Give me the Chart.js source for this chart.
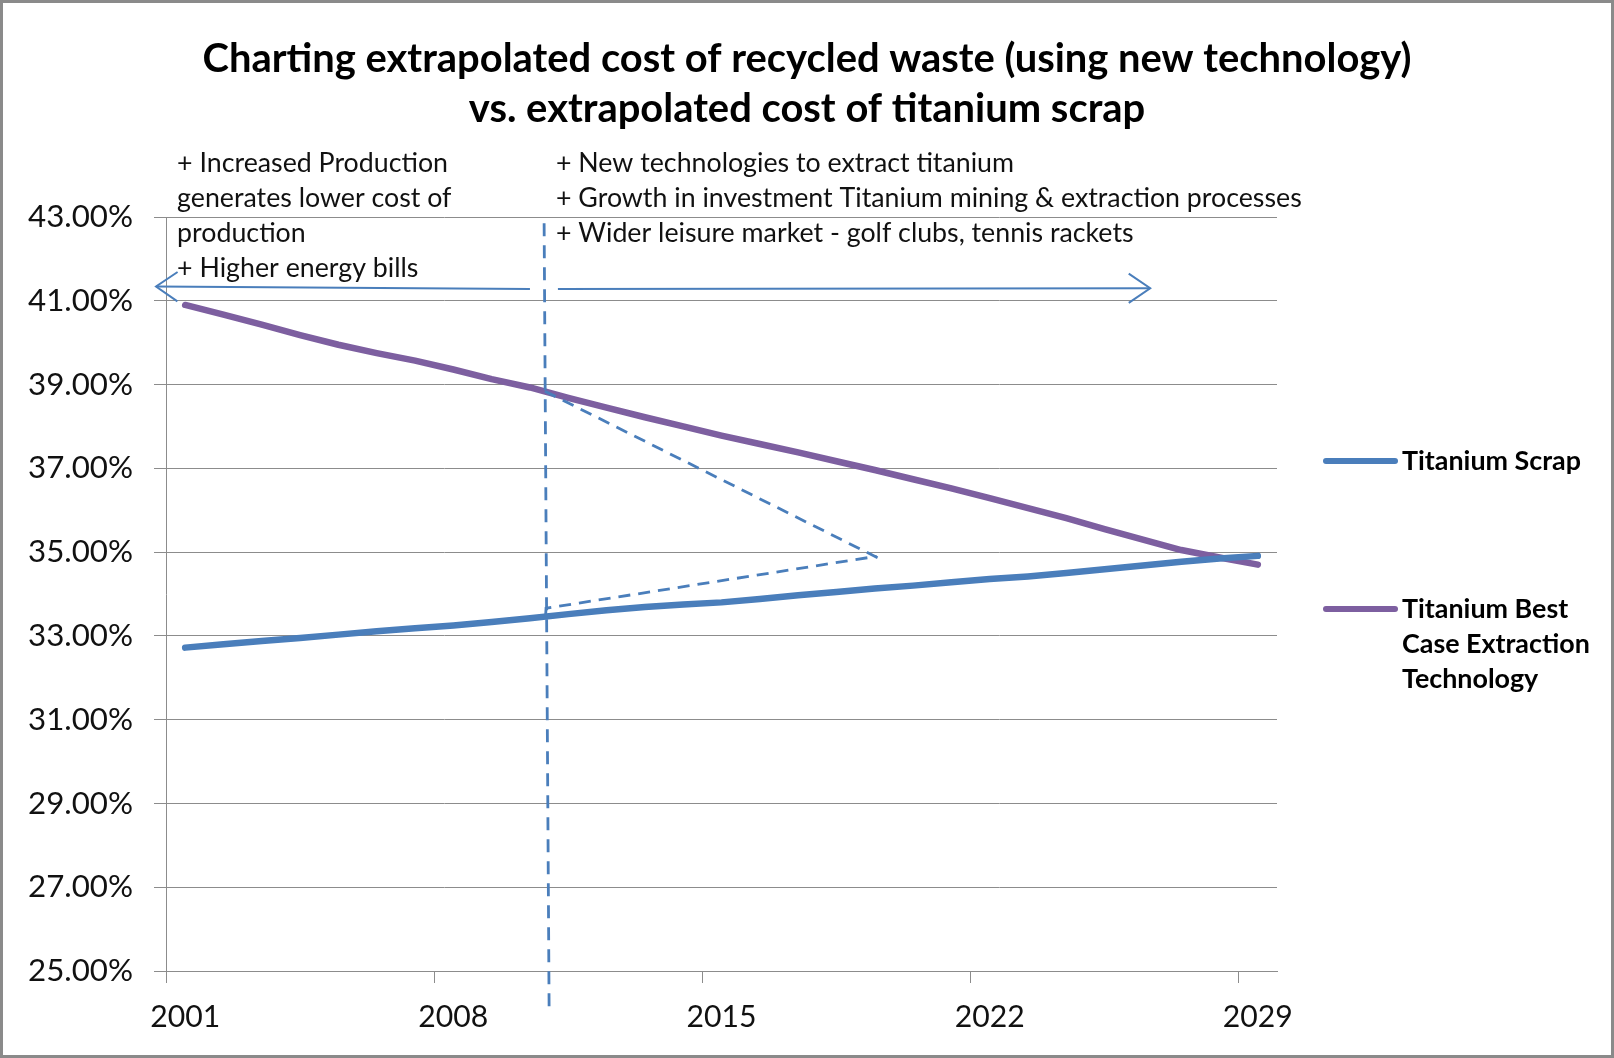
<!DOCTYPE html>
<html>
<head>
<meta charset="utf-8">
<script src="https://cdn.jsdelivr.net/npm/chart.js@4.4.1/dist/chart.umd.min.js"></script>
<style>
html,body{margin:0;padding:0;background:#fff;overflow:hidden}
#wrap{width:1614px;height:1058px;position:relative}
canvas{display:block}
</style>
</head>
<body>
<div id="wrap"><canvas id="c" width="1614" height="1058"></canvas></div>
<script>
// ---------- DATA ----------
const years = ['2001','2002','2003','2004','2005','2006','2007','2008','2009','2010',
               '2011','2012','2013','2014','2015','2016','2017','2018','2019','2020',
               '2021','2022','2023','2024','2025','2026','2027','2028','2029'];
const titaniumScrap = [32.72, 32.80, 32.88, 32.95, 33.03, 33.11, 33.18, 33.25, 33.33, 33.42,
                       33.52, 33.61, 33.69, 33.75, 33.80, 33.88, 33.97, 34.05, 34.13, 34.20,
                       34.28, 34.36, 34.42, 34.50, 34.59, 34.68, 34.77, 34.85, 34.91];
const bestCaseExtraction = [40.90, 40.67, 40.43, 40.18, 39.95, 39.75, 39.57, 39.36, 39.13, 38.93,
                            38.68, 38.45, 38.22, 38.00, 37.78, 37.58, 37.38, 37.17, 36.96, 36.74,
                            36.52, 36.29, 36.05, 35.81, 35.55, 35.30, 35.05, 34.87, 34.70];
const seriesNames = ['Titanium Scrap', 'Titanium Best Case Extraction Technology'];
const legendLines = [['Titanium Scrap'], ['Titanium Best', 'Case Extraction', 'Technology']];
const titleLines = ['Charting extrapolated cost of recycled waste (using new technology)',
                    'vs. extrapolated cost of titanium scrap'];
const leftNotes = ['+ Increased Production', 'generates lower cost of', 'production', '+ Higher energy bills'];
const rightNotes = ['+ New technologies to extract titanium',
                    '+ Growth in investment Titanium mining & extraction processes',
                    '+ Wider leisure market - golf clubs, tennis rackets'];
const yMin = 25, yMax = 43, yStep = 2;
const labelEvery = 7;

// ---------- STYLE ----------
const BLUE = '#4a7ebb';
const PURPLE = '#7d5fa0';
const GRID = '#8c8c8c';
const FAMILY = 'Lato, Carlito, "Open Sans", sans-serif';

const mctx = document.createElement('canvas').getContext('2d');
function fit(text, weight, target) {
  mctx.font = weight + ' 100px ' + FAMILY;
  return +(100 * target / mctx.measureText(text).width).toFixed(2);
}
const titleSize = fit(titleLines[0], 'bold', 1209);
const yTickSize = fit('43.00%', 'normal', 105);
const xTickSize = fit('2001', 'normal', 70);
const noteSize = fit(rightNotes[1], 'normal', 746);
const legendSize = fit(legendLines[0][0], 'bold', 179);

// annotation geometry in data space (category index, percent)
const guides = {
  vertical: [[9.37, 42.85], [9.50, 24.14]],
  leftArrow: [[9.0, 41.28], [-0.76, 41.34]],
  rightArrow: [[9.73, 41.28], [25.19, 41.30]],
  upperWedge: [[9.39, 38.84], [18.11, 34.85]],
  lowerWedge: [[9.41, 33.50], [9.42, 33.66], [18.05, 34.90]]
};
const notesAnchor = { left: [-0.21, 44.28], right: [9.68, 44.28], lineGap: 35 };

const annotations = {
  id: 'annotations',
  afterDatasetsDraw(chart) {
    const c = chart.ctx, xs = chart.scales.x, ys = chart.scales.y;
    const P = p => [xs.getPixelForValue(p[0]), ys.getPixelForValue(p[1])];
    const poly = (pts, dash, w) => {
      c.save(); c.strokeStyle = BLUE; c.lineWidth = w; c.setLineDash(dash);
      c.lineCap = 'butt'; c.beginPath();
      pts.map(P).forEach((q, i) => i ? c.lineTo(q[0], q[1]) : c.moveTo(q[0], q[1]));
      c.stroke(); c.restore();
    };
    const arrow = (pts) => {
      poly(pts, [], 2);
      const a = P(pts[0]), b = P(pts[1]);
      const ang = Math.atan2(b[1] - a[1], b[0] - a[0]);
      const L = 26, h = 0.6;
      c.save(); c.strokeStyle = BLUE; c.lineWidth = 2; c.beginPath();
      c.moveTo(b[0] - L * Math.cos(ang - h), b[1] - L * Math.sin(ang - h));
      c.lineTo(b[0], b[1]);
      c.lineTo(b[0] - L * Math.cos(ang + h), b[1] - L * Math.sin(ang + h));
      c.stroke(); c.restore();
    };
    poly(guides.vertical, [13, 9], 2.8);
    poly(guides.upperWedge, [12, 8], 2.8);
    poly(guides.lowerWedge, [12, 8], 2.8);
    arrow(guides.leftArrow);
    arrow(guides.rightArrow);

    c.save();
    c.fillStyle = '#111';
    c.font = 'normal ' + noteSize + 'px ' + FAMILY;
    c.textBaseline = 'middle'; c.textAlign = 'left';
    const L = P(notesAnchor.left), R = P(notesAnchor.right);
    leftNotes.forEach((t, i) => c.fillText(t, L[0], L[1] + i * notesAnchor.lineGap));
    rightNotes.forEach((t, i) => c.fillText(t, R[0], R[1] + i * notesAnchor.lineGap));
    c.restore();
  },
  afterDraw(chart) {
    const c = chart.ctx, area = chart.chartArea;
    // legend
    const items = [{ y: 461 }, { y: 609 }];
    c.save();
    chart.data.datasets.forEach((ds, i) => {
      const y = items[i].y;
      c.strokeStyle = ds.borderColor; c.lineWidth = 6; c.lineCap = 'round';
      c.beginPath(); c.moveTo(area.right + 49, y); c.lineTo(area.right + 118, y); c.stroke();
      c.fillStyle = '#000';
      c.font = 'bold ' + legendSize + 'px ' + FAMILY;
      c.textBaseline = 'middle'; c.textAlign = 'left';
      legendLines[i].forEach((t, k) => c.fillText(t, area.right + 125, y + k * 35));
    });
    // outer frame
    c.strokeStyle = '#8a8a8a'; c.lineWidth = 3; c.setLineDash([]);
    c.strokeRect(1.5, 1.5, chart.width - 3, chart.height - 3);
    c.restore();
  },
  beforeDraw(chart) {
    const c = chart.ctx;
    c.save(); c.fillStyle = '#fff'; c.fillRect(0, 0, chart.width, chart.height); c.restore();
  }
};

new Chart(document.getElementById('c'), {
  type: 'line',
  data: {
    labels: years,
    datasets: [
      { label: seriesNames[0], data: titaniumScrap, borderColor: BLUE, backgroundColor: BLUE,
        borderWidth: 6.5, pointRadius: 0, tension: 0, fill: false, borderCapStyle: 'round', borderJoinStyle: 'round' },
      { label: seriesNames[1], data: bestCaseExtraction, borderColor: PURPLE, backgroundColor: PURPLE,
        borderWidth: 6.5, pointRadius: 0, tension: 0, fill: false, borderCapStyle: 'round', borderJoinStyle: 'round' }
    ]
  },
  options: {
    responsive: false,
    animation: false,
    devicePixelRatio: 1,
    layout: { padding: 0 },
    plugins: {
      legend: { display: false },
      tooltip: { enabled: false },
      title: {
        display: true, text: titleLines, color: '#000',
        font: { family: FAMILY, weight: 'bold', size: titleSize, lineHeight: '50px' },
        padding: { top: 34, bottom: 83 }
      }
    },
    scales: {
      x: {
        type: 'category', offset: true,
        afterFit: s => { s.height = 87; },
        grid: {
          offset: true, drawOnChartArea: false, drawTicks: true, tickLength: 12, lineWidth: 1,
          color: ctx => (ctx.index !== undefined && ctx.index % labelEvery === 0) ? GRID : 'rgba(0,0,0,0)'
        },
        border: { display: true, color: GRID, width: 1 },
        ticks: {
          autoSkip: false, maxRotation: 0, minRotation: 0, padding: 16, color: '#111',
          font: { family: FAMILY, size: xTickSize },
          callback: function (v, i) { return i % labelEvery === 0 ? this.getLabelForValue(v) : ''; }
        }
      },
      y: {
        min: yMin, max: yMax,
        afterFit: s => { s.width = 166; },
        grid: { color: GRID, lineWidth: 1, tickLength: 12, drawTicks: true },
        border: { display: true, color: GRID, width: 1 },
        ticks: {
          stepSize: yStep, padding: 21, color: '#111',
          font: { family: FAMILY, size: yTickSize },
          callback: v => v.toFixed(2) + '%'
        }
      },
      legendSpace: {
        position: 'right', display: true,
        afterFit: s => { s.width = 337; },
        grid: { display: false }, border: { display: false }, ticks: { display: false }
      }
    }
  },
  plugins: [annotations]
});
</script>
</body>
</html>
